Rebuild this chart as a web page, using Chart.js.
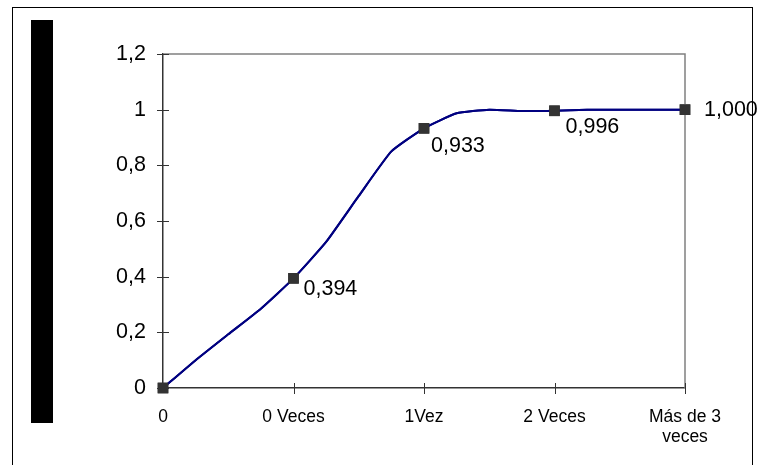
<!DOCTYPE html>
<html>
<head>
<meta charset="utf-8">
<script src="https://cdn.jsdelivr.net/npm/chart.js@4"></script>
<style>
  html, body { margin: 0; padding: 0; background: #fff; }
  #wrap { width: 763px; height: 465px; }
</style>
</head>
<body>
<div id="wrap"><canvas id="myChart"></canvas></div>
<script>
// categories on the x axis
const categories = ['0', '0 Veces', '1Vez', '2 Veces', ['Más de 3', 'veces']];
// the curve (quarter steps between categories)
const xs = [0, 0.25, 0.5, 0.75, 1, 1.25, 1.5, 1.75, 2, 2.25, 2.5, 2.75, 3, 3.25, 3.5, 3.75, 4];
const ys = [0, 0.10, 0.193, 0.285, 0.394, 0.525, 0.69, 0.85, 0.933, 0.987, 1.0, 0.995, 0.996, 1.0, 1.0, 1.0, 1.0];
// value labels shown at the category markers
const markerLabels = [null, '0,394', '0,933', '0,996', '1,000'];
const yTicks = [0, 0.2, 0.4, 0.6, 0.8, 1, 1.2];

const FONT = "'Liberation Sans', Arial, sans-serif";

var points = new Array();
for (let i = 0; i < xs.length; i++) {
    points.push({x: xs[i], y: ys[i]});
}

// frame, black bar, plot border, crossing tick marks, value labels
const decorations = {
    id: 'decorations',
    beforeDraw(chart) {
        const c = chart.ctx;
        c.save();
        c.fillStyle = '#fff';
        c.fillRect(0, 0, chart.width, chart.height);
        c.strokeStyle = '#000';
        c.lineWidth = 1;
        c.strokeRect(12.5, 7.5, 740, 480);
        c.fillStyle = '#000';
        c.fillRect(31, 20, 22, 403);
        c.restore();
    },
    afterDraw(chart) {
        const c = chart.ctx;
        const a = chart.chartArea;
        const sx = chart.scales.x;
        const sy = chart.scales.y;
        c.save();
        c.strokeStyle = '#808080';
        c.lineWidth = 1.5;
        c.beginPath();
        c.moveTo(a.left, a.top);
        c.lineTo(a.right, a.top);
        c.lineTo(a.right, a.bottom);
        c.stroke();
        c.strokeStyle = '#333';
        c.lineWidth = 1;
        c.beginPath();
        yTicks.forEach(v => {
            const py = Math.round(sy.getPixelForValue(v)) + 0.5;
            c.moveTo(a.left - 6, py);
            c.lineTo(a.left + 6, py);
        });
        for (let k = 1; k < categories.length; k++) {
            const px = Math.round(sx.getPixelForValue(k)) + 0.5;
            c.moveTo(px, a.bottom - 5);
            c.lineTo(px, a.bottom + 6);
        }
        c.stroke();
        c.restore();

        // redraw markers above the frame
        chart.getDatasetMeta(0).controller.draw();

        c.save();
        c.fillStyle = '#000';
        c.font = '21.5px ' + FONT;
        c.textAlign = 'left';
        c.textBaseline = 'middle';
        const offs = [null, [10, 11], [7, 18], [11, 16], [19, 0]];
        for (let k = 1; k < markerLabels.length; k++) {
            const i = xs.indexOf(k);
            const px = sx.getPixelForValue(xs[i]);
            const py = sy.getPixelForValue(ys[i]);
            c.fillText(markerLabels[k], px + offs[k][0], py + offs[k][1]);
        }
        c.restore();
    }
};

const myChart = new Chart(document.getElementById('myChart'), {
    type: 'line',
    data: {
        datasets: [{
            data: points,
            borderColor: '#000080',
            borderWidth: 2,
            tension: 0.15,
            pointStyle: 'rect',
            pointRadius: (ctx) => Number.isInteger(xs[ctx.dataIndex]) ? 7.5 : 0,
            pointBackgroundColor: '#333',
            pointBorderColor: '#333',
            pointBorderWidth: 0,
            clip: false,
        }]
    },
    options: {
        responsive: true,
        maintainAspectRatio: false,
        animation: false,
        layout: {
            padding: {left: 0, top: 54, right: 78, bottom: 0}
        },
        plugins: {
            legend: { display: false },
            tooltip: { enabled: false },
        },
        scales: {
            x: {
                type: 'linear',
                min: 0,
                max: 4,
                afterFit: (scale) => { scale.height = 77; },
                afterBuildTicks: (scale) => {
                    scale.ticks = categories.map((c, k) => ({value: k}));
                },
                ticks: {
                    autoSkip: false,
                    maxRotation: 0,
                    padding: 19,
                    color: '#000',
                    font: { family: FONT, size: 17.5, lineHeight: 1.15 },
                    callback: (v) => categories[v],
                },
                grid: { display: false, drawTicks: false },
                border: { display: true, color: '#333', width: 1.5 },
            },
            y: {
                min: 0,
                max: 1.2,
                afterFit: (scale) => { scale.width = 163; },
                afterBuildTicks: (scale) => {
                    scale.ticks = yTicks.map(v => ({value: v}));
                },
                ticks: {
                    padding: 17,
                    color: '#000',
                    font: { family: FONT, size: 21.5 },
                    callback: (v) => Number(v.toFixed(1)).toString().replace('.', ','),
                },
                grid: { display: false, drawTicks: false },
                border: { display: true, color: '#333', width: 1.5 },
            }
        }
    },
    plugins: [decorations]
});
</script>
</body>
</html>
